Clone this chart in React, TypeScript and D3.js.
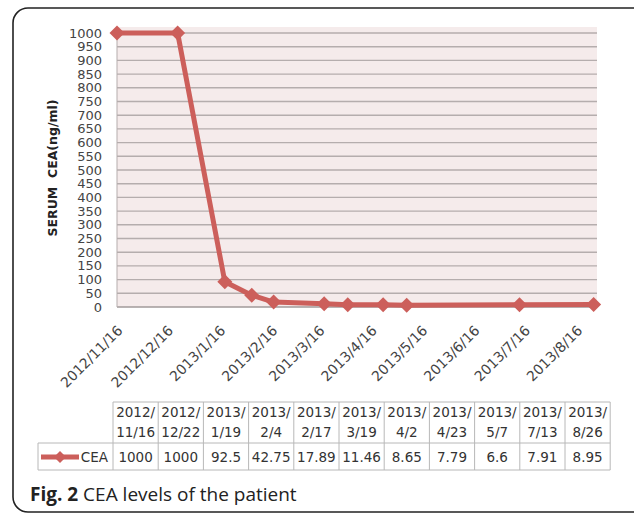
import React from "react";
import * as d3 from "d3";

// sample dates and CEA values (ng/ml)
const dates = [
  "2012/11/16", "2012/12/22", "2013/1/19", "2013/2/4", "2013/2/17", "2013/3/19",
  "2013/4/2", "2013/4/23", "2013/5/7", "2013/7/13", "2013/8/26",
];
const cea = [1000, 1000, 92.5, 42.75, 17.89, 11.46, 8.65, 7.79, 6.6, 7.91, 8.95];
const tickDates = [
  "2012/11/16", "2012/12/16", "2013/1/16", "2013/2/16", "2013/3/16",
  "2013/4/16", "2013/5/16", "2013/6/16", "2013/7/16", "2013/8/16",
];
const yTicks = d3.range(0, 1001, 50);

const parse = d3.timeParse("%Y/%m/%d");
const RED = "#cc5f5b";
const FONT = "DejaVu Sans, Verdana, sans-serif";

const App = () => {
  const width = 634;
  const height = 517;
  const plot = { left: 117, right: 597, top: 33, bottom: 307 };

  const x = d3
    .scaleTime()
    .domain([parse("2012/11/16"), parse("2013/8/28")])
    .range([plot.left, plot.right]);
  const y = d3.scaleLinear().domain([0, 1000]).range([plot.bottom, plot.top]);

  const points = dates.map((d, i) => ({ date: parse(d), value: cea[i] }));
  const line = d3
    .line<{ date: Date; value: number }>()
    .x((d) => x(d.date))
    .y((d) => y(d.value));

  const diamond = (cx: number, cy: number, r: number) =>
    `M${cx},${cy - r}L${cx + r},${cy}L${cx},${cy + r}L${cx - r},${cy}Z`;

  // table geometry
  const tLeft = 113;
  const colW = 45.2;
  const rowTop = 402;
  const rowMid = 443;
  const rowBot = 470;
  const legendLeft = 38;

  return (
    <svg
      width={width}
      height={height}
      style={{ position: "absolute", left: 0, top: 0, background: "#fff" }}
    >
      {/* outer frame */}
      <rect x={13} y={8} width={640} height={504} rx={15} fill="none" stroke="#222" strokeWidth={1.6} />

      {/* plot background */}
      <rect x={plot.left} y={plot.top - 6} width={plot.right - plot.left} height={plot.bottom - plot.top + 6} fill="#f5ebeb" />

      {/* grid */}
      {yTicks.map((t) => (
        <line key={t} x1={plot.left} x2={plot.right} y1={y(t)} y2={y(t)} stroke={t === 0 ? "#a09a9a" : "#b5adad"} strokeWidth={1.4} />
      ))}
      <line x1={plot.left} x2={plot.left} y1={plot.top} y2={plot.bottom} stroke="#b5adad" strokeWidth={1} />

      {/* y tick labels */}
      {yTicks.map((t) => (
        <text key={t} x={102} y={y(t)} dy="0.35em" textAnchor="end" fontFamily={FONT} fontSize={13} fill="#444">
          {t}
        </text>
      ))}

      {/* y axis title */}
      <text
        transform={`translate(57,168) rotate(-90)`}
        textAnchor="middle"
        fontFamily={FONT}
        fontSize={12.5}
        fontWeight="bold"
        fill="#222"
        style={{ whiteSpace: "pre" }}
      >
        {"SERUM  CEA(ng/ml)"}
      </text>

      {/* x tick labels */}
      {tickDates.map((d) => {
        const px = x(parse(d));
        return (
          <text
            key={d}
            transform={`translate(${px + 3},${plot.bottom + 21}) rotate(-45)`}
            textAnchor="end"
            dy="0.35em"
            fontFamily={FONT}
            fontSize={14}
            fill="#444"
          >
            {d}
          </text>
        );
      })}

      {/* series */}
      <path d={line(points) || ""} fill="none" stroke={RED} strokeWidth={5} strokeLinejoin="round" />
      {points.map((p, i) => (
        <path key={i} d={diamond(x(p.date), y(p.value), 7.5)} fill={RED} />
      ))}

      {/* data table */}
      <g fontFamily={FONT} fontSize={13.5} fill="#333" stroke="none">
        {dates.map((d, i) => {
          const cx = tLeft + colW * (i + 0.5);
          const [yr, ...rest] = d.split("/");
          return (
            <g key={d}>
              <text x={cx} y={412} textAnchor="middle" dy="0.35em">{yr + "/"}</text>
              <text x={cx} y={432} textAnchor="middle" dy="0.35em">{rest.join("/")}</text>
              <text x={cx} y={457} textAnchor="middle" dy="0.35em">{cea[i]}</text>
            </g>
          );
        })}
        <text x={108} y={457} textAnchor="end" dy="0.35em">CEA</text>
      </g>
      <g stroke="#b8b8b8" strokeWidth={1}>
        <line x1={tLeft} x2={tLeft + colW * dates.length} y1={rowTop} y2={rowTop} />
        <line x1={legendLeft} x2={tLeft + colW * dates.length} y1={rowMid} y2={rowMid} />
        <line x1={legendLeft} x2={tLeft + colW * dates.length} y1={rowBot} y2={rowBot} />
        <line x1={legendLeft} x2={legendLeft} y1={rowMid} y2={rowBot} />
        {d3.range(dates.length + 1).map((i) => (
          <line key={i} x1={tLeft + colW * i} x2={tLeft + colW * i} y1={rowTop} y2={rowBot} />
        ))}
      </g>
      <line x1={41} x2={79} y1={457} y2={457} stroke={RED} strokeWidth={5} />
      <path d={diamond(60, 457, 6)} fill={RED} />

      {/* caption */}
      <text x={30} y={501} fontFamily="Open Sans, sans-serif" fontSize={19} fill="#222">
        <tspan fontWeight="bold">Fig. 2</tspan>
        <tspan> CEA levels of the patient</tspan>
      </text>
    </svg>
  );
};

export default App;
